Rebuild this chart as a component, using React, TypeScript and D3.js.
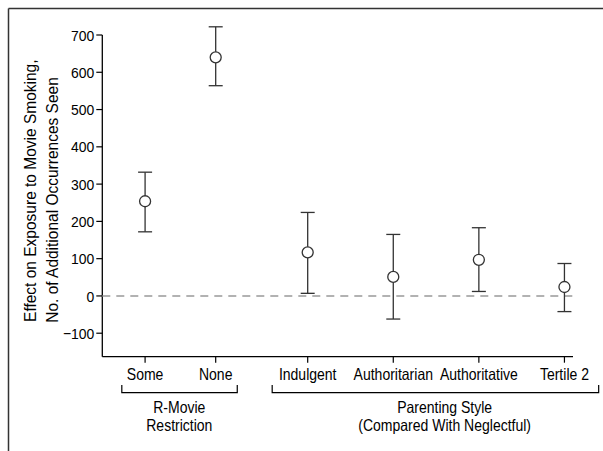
import * as d3 from "d3";

// categories along x (positions in axis units)
const categories = ["Some", "None", "Indulgent", "Authoritarian", "Authoritative", "Tertile 2"];
const positions = [1, 1.825, 2.9, 3.9, 4.9, 5.9];
const estimates = [254, 640, 117, 51, 97, 24];
const upper = [332, 722, 224, 165, 183, 87];
const lower = [172, 564, 7, -62, 12, -42];
const yTicks = [-100, 0, 100, 200, 300, 400, 500, 600, 700];

const font = "'Liberation Sans', Arial, sans-serif";

// text squeezed horizontally around its anchor point (condensed look)
function Label({ x, y, anchor = "middle", rotate = 0, dy, size = 16.3, squeeze = 0.86, children }: any) {
    return (
        <g transform={`translate(${x},${y}) rotate(${rotate}) scale(${squeeze},1)`}>
            <text textAnchor={anchor} dy={dy} fontSize={size} fill="#000">{children}</text>
        </g>
    );
}

export default function App() {
    const W = 603;
    const H = 451;

    const xScale = d3.scaleLinear().domain([0.5, 6.0]).range([102.3, 573]);
    const yScale = d3.scaleLinear().domain([-163, 700]).range([356.7, 35]);

    const x0 = xScale.range()[0];
    const x1 = xScale.range()[1];
    const yBottom = yScale.range()[0];
    const yTop = yScale(700);
    const cap = 7;

    // brackets grouping the categories (axis units)
    const groups = [
        { from: 0.728, to: 2.077, mid: 1.4, lines: ["R-Movie", "Restriction"] },
        { from: 2.485, to: 6.3, mid: 4.5, lines: ["Parenting Style", "(Compared With Neglectful)"] },
    ];

    return (
        <svg width={W} height={H} style={{ position: "absolute", left: 0, top: 0, background: "white" }}
            fontFamily={font}>
            {/* frame */}
            <line x1={8.5} x2={W} y1={8.5} y2={8.5} stroke="#333" strokeWidth={1.5} />
            <line x1={8.5} x2={8.5} y1={8.5} y2={H} stroke="#333" strokeWidth={1.5} />

            {/* y axis */}
            <line x1={x0} x2={x0} y1={yTop} y2={yBottom} stroke="#000" strokeWidth={1.3} />
            {yTicks.map(t => (
                <g key={t}>
                    <line x1={x0 - 6} x2={x0} y1={yScale(t)} y2={yScale(t)} stroke="#000" strokeWidth={1.2} />
                    <Label x={x0 - 8} y={yScale(t)} dy="0.36em" anchor="end" size={15.5} squeeze={0.9}>
                        {t < 0 ? "\u2212" + Math.abs(t) : t}
                    </Label>
                </g>
            ))}

            {/* x axis */}
            <line x1={x0} x2={x1} y1={yBottom} y2={yBottom} stroke="#000" strokeWidth={1.3} />
            {categories.map((c, i) => (
                <g key={c}>
                    <line x1={xScale(positions[i])} x2={xScale(positions[i])} y1={yBottom} y2={yBottom + 6}
                        stroke="#000" strokeWidth={1.2} />
                    <Label x={xScale(positions[i])} y={380}>{c}</Label>
                </g>
            ))}

            {/* zero reference */}
            <line x1={x0} x2={x1} y1={yScale(0)} y2={yScale(0)} stroke="#999" strokeWidth={1.5}
                strokeDasharray="8 6" />

            {/* error bars */}
            {categories.map((c, i) => {
                const x = xScale(positions[i]);
                return (
                    <g key={"e" + c} stroke="#333" strokeWidth={1.3} fill="none">
                        <line x1={x} x2={x} y1={yScale(upper[i])} y2={yScale(lower[i])} />
                        <line x1={x - cap} x2={x + cap} y1={yScale(upper[i])} y2={yScale(upper[i])} />
                        <line x1={x - cap} x2={x + cap} y1={yScale(lower[i])} y2={yScale(lower[i])} />
                        <circle cx={x} cy={yScale(estimates[i])} r={5.5} fill="white" />
                    </g>
                );
            })}

            {/* group brackets */}
            {groups.map(g => (
                <g key={g.lines[0]}>
                    <path d={`M${xScale(g.from)},385 V392.7 H${xScale(g.to)} V385`} fill="none" stroke="#000"
                        strokeWidth={1.2} />
                    {g.lines.map((l, k) => (
                        <Label key={l} x={xScale(g.mid)} y={413 + k * 18}>{l}</Label>
                    ))}
                </g>
            ))}

            {/* y label */}
            <Label x={35.5} y={190.7} rotate={-90} size={16.5} squeeze={0.94}>Effect on Exposure to Movie Smoking,</Label>
            <Label x={57.5} y={200} rotate={-90} size={16.5} squeeze={0.94}>No. of Additional Occurrences Seen</Label>
        </svg>
    );
}
